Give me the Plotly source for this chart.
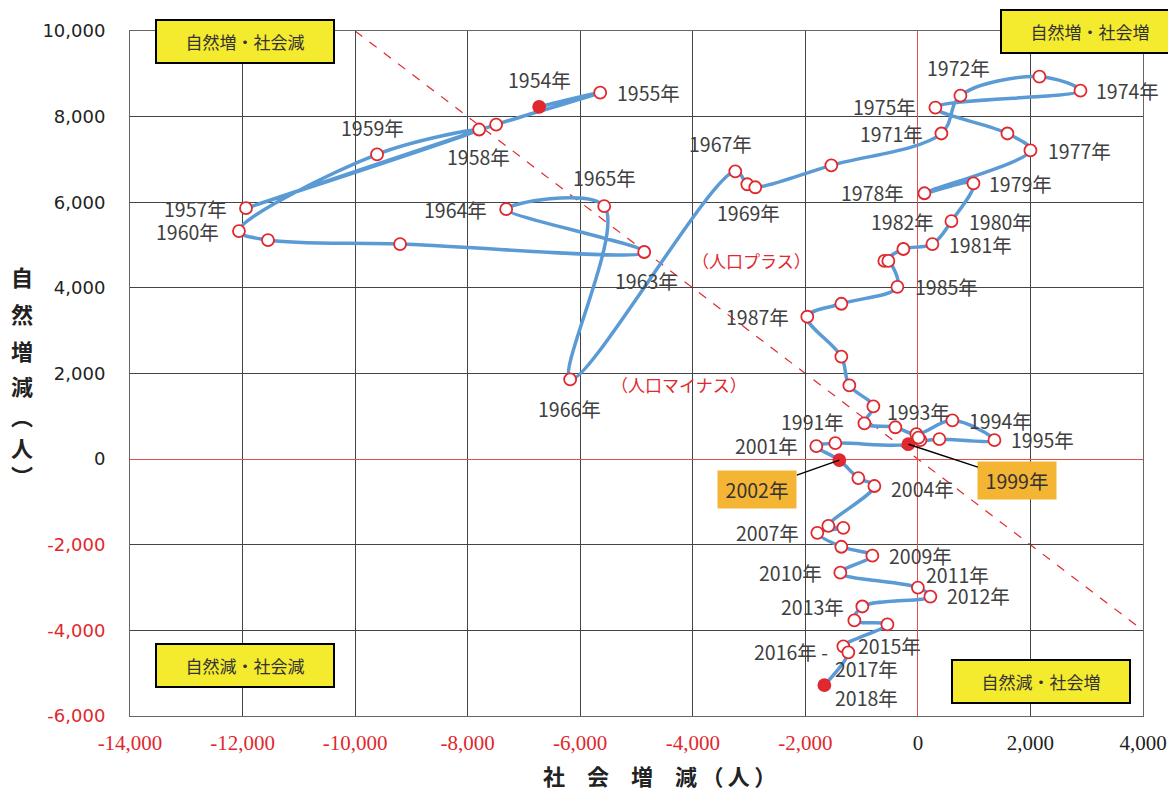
import plotly.graph_objects as go

# ---------------- data ----------------
years = list(range(1954, 2019))
social = [-6730, -5645, -7494, -11939, -7796, -9610, -12064, -11548, -9201, -4863,
          -7316, -5574, -6179, -3245, -3031, -2889, -1538, 418, 756, 2160,
          2889, 311, 1591, 2000, 116, 987, 596, 258, -258, -596,
          -525, -364, -1360, -1965, -1360, -1218, -791, -951, -400, -27,
          613, 1360, 382, 44, 10, -169, -1467, -1805, -1396, -1058,
          -773, -1591, -1325, -1787, -1360, -809, -1378, 0, 222, -987,
          -1129, -542, -1325, -1236, -1662]
natural = [8230, 8560, 7815, 5861, 7699, 7118, 5326, 5117, 5024, 4838,
           5838, 5908, 1861, 6722, 6420, 6350, 6862, 7606, 8490, 8932,
           8606, 8211, 7606, 7211, 6210, 6443, 5559, 5024, 4908, 4629,
           4629, 4024, 3629, 3326, 2396, 1721, 1233, 837, 744, 582,
           907, 442, 465, 442, 500, 349, 372, 302, -23, -442,
           -628, -1558, -1605, -1721, -2047, -2256, -2652, -3000, -3210, -3442,
           -3768, -3861, -4373, -4512, -5280]
highlight_years = [1954, 1999, 2002, 2018]

x_tick_vals = [-14000, -12000, -10000, -8000, -6000, -4000, -2000, 0, 2000, 4000]
x_tick_text = ["-14,000", "-12,000", "-10,000", "-8,000", "-6,000", "-4,000", "-2,000", "0", "2,000", "4,000"]
y_tick_vals = [10000, 8000, 6000, 4000, 2000, 0, -2000, -4000, -6000]
y_tick_text = ["10,000", "8,000", "6,000", "4,000", "2,000", "0", "-2,000", "-4,000", "-6,000"]

# year label offsets (pixels: dx, dy-up)
label_offsets = {
    1954: (0, 27), 1955: (48, 0), 1957: (-50, 0), 1958: (-1, -27), 1959: (-5, 27),
    1960: (-51, 0), 1963: (2, -28), 1964: (-51, 0), 1965: (0, 29), 1966: (-1, -29),
    1967: (-15, 28), 1969: (-7, -25), 1971: (-50, 0), 1972: (-2, 28), 1974: (47, 0),
    1975: (-51, 1), 1977: (49, 0), 1978: (-52, 1), 1979: (47, 0), 1980: (49, 0),
    1981: (48, 0), 1982: (-1, 28), 1985: (49, 0), 1987: (-50, 0), 1991: (-52, 2),
    1993: (2, 23), 1994: (48, 0), 1995: (48, 1), 2001: (-50, 1), 2004: (48, -2),
    2007: (-50, 0), 2009: (48, 0), 2010: (-50, 0), 2011: (40, 13), 2012: (48, 1),
    2013: (-50, 0), 2015: (2, -21), 2016: (-52, -5), 2017: (18, -16), 2018: (42, -12),
}
callouts = {2002: (-82, 29), 1999: (109, 36)}

RED = "#E0282E"
FONT = "Noto Sans CJK JP"

def colored(txt, neg):
    return f"<span style='color:{RED}'>{txt}</span>" if neg else txt

fig = go.Figure()

fig.add_trace(go.Scatter(
    x=social, y=natural, mode="lines+markers",
    line=dict(color="#5B9BD5", width=3.5, shape="spline", smoothing=1.0),
    marker=dict(size=12, symbol="circle",
                color=[RED if y in highlight_years else "white" for y in years],
                line=dict(color=RED, width=1.8)),
    hoverinfo="skip", showlegend=False,
))

annotations = []
for yr, (dx, dy) in label_offsets.items():
    i = years.index(yr)
    txt = f"{yr}年 -" if yr == 2016 else f"{yr}年"
    annotations.append(dict(x=social[i], y=natural[i], xref="x", yref="y", text=txt,
                            showarrow=False, xshift=dx, yshift=dy,
                            font=dict(family=FONT, size=19.5, color="#404040")))
for yr, (ax, ay) in callouts.items():
    i = years.index(yr)
    annotations.append(dict(x=social[i], y=natural[i], xref="x", yref="y", text=f"{yr}年",
                            showarrow=True, arrowhead=0, arrowwidth=1.5, arrowcolor="black",
                            ax=ax, ay=ay, bgcolor="#F5B534", borderpad=4, width=70,
                            font=dict(family=FONT, size=19.5, color="#333333")))

# quadrant boxes
quads = [("自然増・社会減", 0.1135, 0.985), ("自然増・社会増", 0.948, 1.0),
         ("自然減・社会減", 0.1135, 0.074), ("自然減・社会増", 0.899, 0.051)]
for txt, px, py in quads:
    annotations.append(dict(x=px, y=py, xref="paper", yref="paper", text=txt, showarrow=False,
                            bgcolor="#F4EA2E", bordercolor="black", borderwidth=2,
                            width=174, height=39, xanchor="center", yanchor="middle",
                            font=dict(family=FONT, size=17, color="#333333")))

annotations.append(dict(x=-2950, y=4640, xref="x", yref="y", text="（人口プラス）", showarrow=False,
                        font=dict(family=FONT, size=17, color=RED)))
annotations.append(dict(x=-4250, y=1750, xref="x", yref="y", text="（人口マイナス）", showarrow=False,
                        font=dict(family=FONT, size=17, color=RED)))

# axis titles
y_title_chars = ["自", "然", "増", "減", "︵", "人", "︶"]
y_title_pos = [0.642, 0.588, 0.535, 0.483, 0.440, 0.393, 0.352]
for ch, py in zip(y_title_chars, y_title_pos):
    annotations.append(dict(x=-0.1066, y=py, xref="paper", yref="paper", text=f"<b>{ch}</b>",
                            showarrow=False, xanchor="center", yanchor="middle",
                            font=dict(family=FONT, size=22, color="#222222")))
annotations.append(dict(x=0.523, y=-0.086, xref="paper", yref="paper", xanchor="center",
                        yanchor="middle",
                        text="<b>社\u3000会\u3000増\u3000減\u2009（\u2009人\u2009）</b>", showarrow=False,
                        font=dict(family=FONT, size=22, color="#222222")))

fig.update_layout(
    width=1176, height=792,
    margin=dict(l=122, r=41, t=20, b=84),
    paper_bgcolor="white", plot_bgcolor="white",
    annotations=annotations,
    shapes=[dict(type="line", xref="x", yref="y", x0=-10000, y0=10000, x1=4000, y1=-4000,
                 line=dict(color=RED, width=1.2, dash="dash"), layer="below")],
)
fig.update_xaxes(range=[-14000, 4000], tickvals=x_tick_vals,
                 ticktext=[colored(t, v < 0) for t, v in zip(x_tick_text, x_tick_vals)],
                 showgrid=True, gridcolor="#444444", gridwidth=1,
                 zeroline=True, zerolinecolor="#E05050", zerolinewidth=1,
                 showline=True, linecolor="#666666", mirror=True,
                 tickfont=dict(family="Liberation Sans Narrow", size=21, color="#222222"),
                 ticks="", ticklen=0, ticklabelstandoff=8)
fig.update_yaxes(range=[-6000, 10000], tickvals=y_tick_vals,
                 ticktext=[colored(t, v < 0) for t, v in zip(y_tick_text, y_tick_vals)],
                 showgrid=True, gridcolor="#444444", gridwidth=1,
                 zeroline=True, zerolinecolor="#E05050", zerolinewidth=1,
                 showline=True, linecolor="#666666", mirror=True,
                 tickfont=dict(family="DejaVu Sans", size=18, color="#222222"),
                 ticks="", ticklen=0, ticklabelstandoff=20)

fig.write_html("out.html")
